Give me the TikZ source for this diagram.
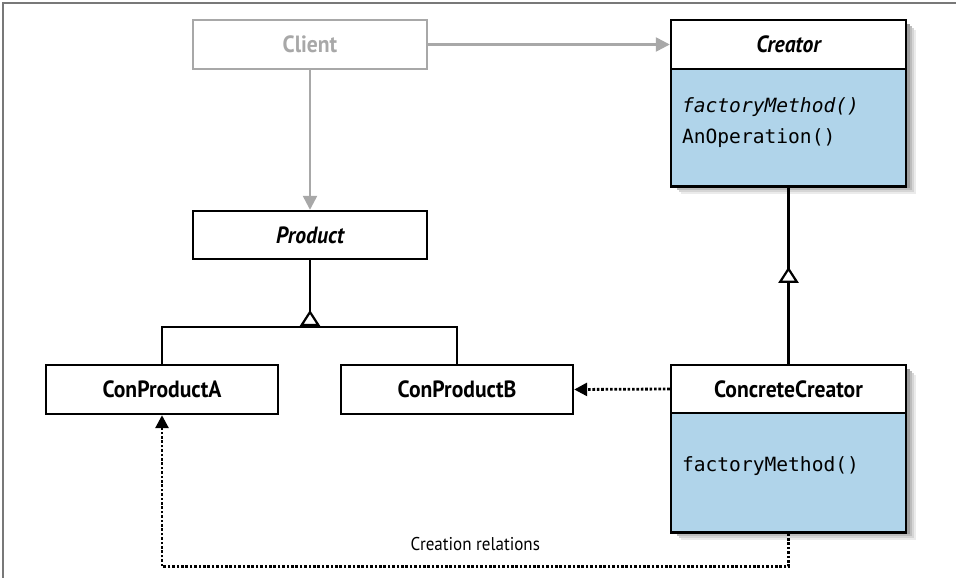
\documentclass[tikz,border=0pt]{standalone}
\usepackage{fontspec}
\setmainfont{PT Sans}
\newfontfamily\condsans[FakeStretch=0.92]{PT Sans}
\newfontfamily\codefont{DejaVu Sans Mono}
\usepackage{tikz}
\usetikzlibrary{arrows.meta,positioning,calc}

\definecolor{opsblue}{RGB}{176,212,234}
\definecolor{clientgray}{RGB}{168,168,168}
\definecolor{framegray}{RGB}{120,120,120}

\begin{document}
\begin{tikzpicture}[x=1pt,y=1pt]
\tikzstyle{every node}+=[inner sep=0pt]
\tikzstyle{classhead}=[draw=black, line width=2.4pt, fill=white, minimum height=49pt,
  font=\condsans\fontsize{23.5}{26}\selectfont\bfseries]
\tikzstyle{opsbox}=[draw=black, line width=2.4pt, fill=opsblue, minimum width=235pt]
\tikzstyle{opstext}=[anchor=north west, align=left, font=\codefont\fontsize{19.6}{31}\selectfont]
\tikzstyle{uses}=[line width=2.4pt, -{Triangle[length=14pt,width=14pt]}]
\tikzstyle{creates}=[line width=2.8pt, dash pattern=on 2.6pt off 1.8pt, -{Triangle[length=13pt,width=13pt]}]
\tikzstyle{inherits}=[line width=2.4pt, -{Triangle[fill=white,length=16pt,width=20pt,line width=2.2pt]}]
\useasboundingbox (0,0) rectangle (956,-578);
\draw [framegray, line width=1.6pt] (3,-578) -- (3,-3) -- (956,-3);
% soft shadows behind the two creator classes
\foreach \off/\tone in {10/8, 8/16, 6/26, 4/38} {
  \fill [black!\tone] (671+\off,-20-\off) rectangle (906+\off,-184-\off);
  \fill [black!\tone] (671+\off,-365-\off) rectangle (906+\off,-530-\off);
}
% classes
\node [classhead, draw=clientgray, text=clientgray, minimum width=234pt] (client) at (310,-44.5) {Client};
\node [classhead, minimum width=235pt] (creator) at (788.5,-44.5) {\itshape Creator};
\node [opsbox, minimum height=117.4pt, below=-2.4pt of creator] (creatorops) {};
\node [opstext] (creatorfm) at ([shift={(12,-30)}]creatorops.north west) {\itshape factoryMethod()\\AnOperation()};
\node [classhead, minimum width=234pt, minimum height=48pt] (product) at (310,-235) {\itshape Product};
\node [classhead, minimum width=232pt] (conproducta) at (162,-389.5) {ConProductA};
\node [classhead, minimum width=232pt] (conproductb) at (457,-389.5) {ConProductB};
\node [classhead, minimum width=235pt, minimum height=48pt] (concrete) at (788.5,-389) {ConcreteCreator};
\node [opsbox, minimum height=119.4pt, below=-2.4pt of concrete] (concreteops) {};
\node [opstext, anchor=west] (concretefm) at ([shift={(12,-54)}]concreteops.north west) {factoryMethod()};
% client links
\draw [uses, clientgray] (client) -- (creator);
\draw [uses, clientgray] (client) -- (product);
% product hierarchy
\coordinate (prodjoin) at (310,-327);
\draw [line width=2.4pt] (product) -- (prodjoin);
\draw [line width=2.4pt] (conproducta.north) |- (prodjoin) -| (conproductb.north);
\draw [inherits] (prodjoin) -- ++(0,17);
% creator hierarchy
\coordinate (creatorjoin) at ($(concrete.north)+(0,81)$);
\draw [line width=2.4pt] (creatorops.south) -- (creatorjoin);
\draw [inherits] (concrete.north) -- (creatorjoin) -- ++(0,16);
% creation relations
\coordinate (concretedrop) at ($(concreteops.south)+(0,-33)$);
\draw [creates] (concrete.west) -- (conproductb.east);
\draw [creates] (concreteops.south) -- (concretedrop) -| (conproducta.south)
  node [pos=0.25, above=14pt, font=\condsans\fontsize{18.5}{21}\selectfont] (crlabel) {Creation relations};
\end{tikzpicture}
\end{document}
